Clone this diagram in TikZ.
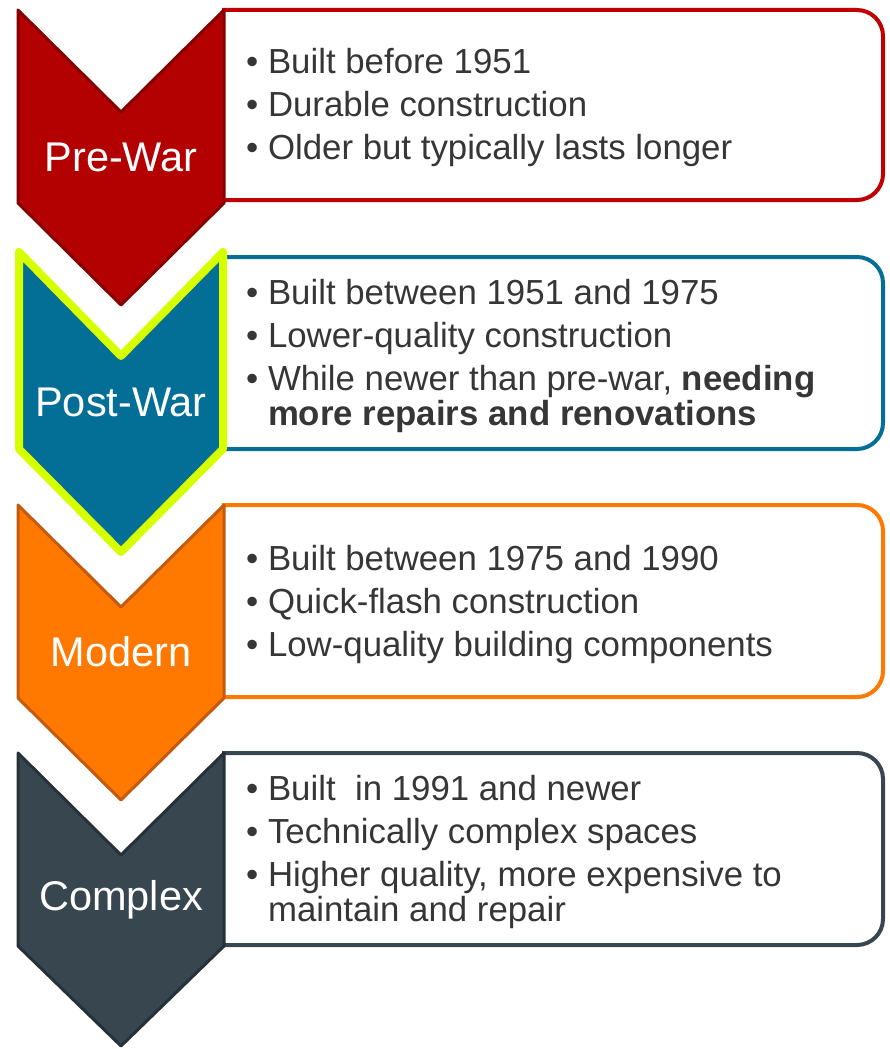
\documentclass[tikz,border=0pt]{standalone}
\usepackage{fontspec}
\setmainfont{Liberation Sans}
\definecolor{prered}{HTML}{B30000}
\definecolor{prereddark}{HTML}{850000}
\definecolor{preredline}{HTML}{C00000}
\definecolor{postblue}{HTML}{036E96}
\definecolor{postlime}{HTML}{D6FF00}
\definecolor{modorange}{HTML}{FF7800}
\definecolor{modorangedark}{HTML}{C45A0E}
\definecolor{cxslate}{HTML}{37464F}
\definecolor{cxslatedark}{HTML}{263238}
\definecolor{textgray}{HTML}{363636}
\tikzset{
  chevron/.style={line width=3pt, line join=round},
  infobox/.style={fill=white, line width=4pt, rounded corners=26pt},
  stagename/.style={text=white, inner sep=0pt, font=\fontsize{41.5}{45}\selectfont},
  points/.style={anchor=west, align=left, text=textgray, inner sep=0pt,
    font=\fontsize{34.8}{35}\selectfont}
}
\begin{document}
\begin{tikzpicture}[x=1pt,y=-1pt]
	\useasboundingbox (0,0) rectangle (890,1049);
	% boxes first, the chevrons cover their left ends
	\draw[infobox, draw=preredline] (222,10) -- (883,10) -- (883,200) -- (222,200);
	\draw[infobox, draw=postblue] (222,257) -- (883,257) -- (883,449) -- (222,449);
	\draw[infobox, draw=modorange] (222,505) -- (883,505) -- (883,697) -- (222,697);
	\draw[infobox, draw=cxslate] (222,753) -- (883,753) -- (883,945) -- (222,945);
	% chevrons
	\filldraw[chevron, fill=prered, draw=prereddark] (18,10) -- (121,112) -- (224,10) -- (224,203) -- (121,305) -- (18,203) -- cycle;
	\filldraw[chevron, fill=postblue, draw=postlime, line width=8pt] (19,252) -- (121,356) -- (223,252) -- (223,449) -- (121,552) -- (19,449) -- cycle;
	\filldraw[chevron, fill=modorange, draw=modorangedark] (18,505) -- (121,607) -- (224,505) -- (224,698) -- (121,800) -- (18,698) -- cycle;
	\filldraw[chevron, fill=cxslate, draw=cxslatedark] (18,753) -- (121,855) -- (224,753) -- (224,946) -- (121,1046) -- (18,946) -- cycle;
	% stage names
	\node[stagename] (prewar) at (121,157) {Pre-War};
	\node[stagename] (postwar) at (121,402) {Post-War};
	\node[stagename] (modern) at (121,652) {Modern};
	\node[stagename] (complex) at (121,900) {Complex};
	% bullet texts
	\node[points] (preinfo) at (246,108) {\textbullet\ Built before 1951\\[8pt]
	  \textbullet\ Durable construction\\[8pt]
	  \textbullet\ Older but typically lasts longer};
	\node[points] (postinfo) at (246,356) {\textbullet\ Built between 1951 and 1975\\[8pt]
	  \textbullet\ Lower-quality construction\\[8pt]
	  \textbullet\ While newer than pre-war, \textbf{needing}\\
	  \phantom{\textbullet\ }\textbf{more repairs and renovations}};
	\node[points] (modinfo) at (246,604) {\textbullet\ Built between 1975 and 1990\\[8pt]
	  \textbullet\ Quick-flash construction\\[8pt]
	  \textbullet\ Low-quality building components};
	\node[points] (cxinfo) at (246,852) {\textbullet\ Built\ \ in 1991 and newer\\[8pt]
	  \textbullet\ Technically complex spaces\\[8pt]
	  \textbullet\ Higher quality, more expensive to\\
	  \phantom{\textbullet\ }maintain and repair};
\end{tikzpicture}
\end{document}
